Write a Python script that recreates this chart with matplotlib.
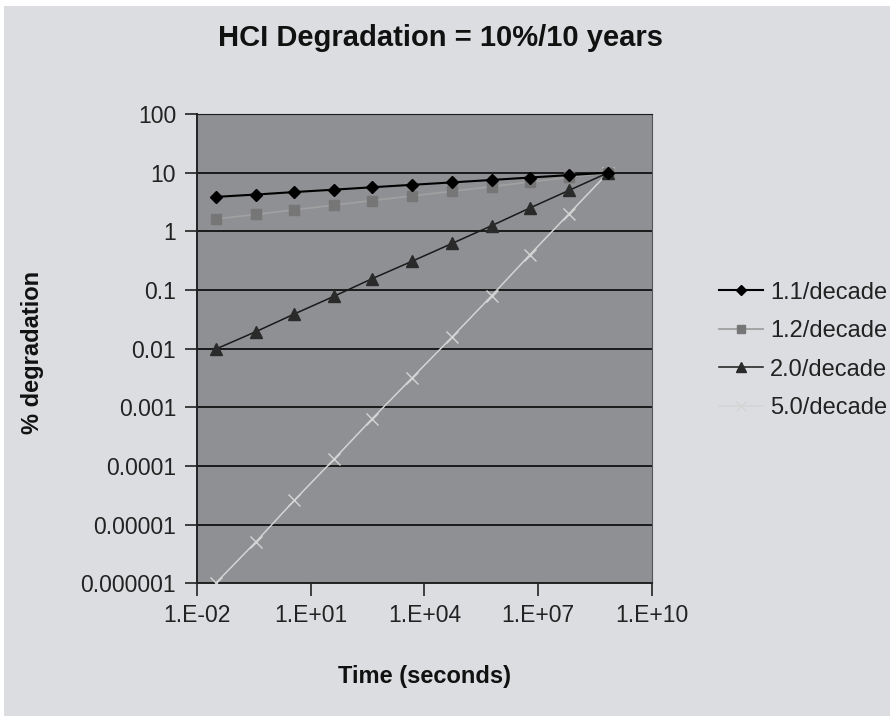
import matplotlib
matplotlib.use("Agg")
import matplotlib.pyplot as plt
from matplotlib.patches import Rectangle

# time points (seconds)
time_s = [0.031, 0.36, 3.7, 41, 420, 4800, 55000, 6.0e5, 6.1e6, 6.6e7, 7.1e8]

# % degradation for each slope
deg_11 = [3.86, 4.24, 4.67, 5.13, 5.64, 6.21, 6.83, 7.51, 8.26, 9.09, 10]
deg_12 = [1.62, 1.94, 2.33, 2.79, 3.35, 4.02, 4.82, 5.79, 6.94, 8.33, 10]
deg_20 = [0.0098, 0.0195, 0.039, 0.078, 0.156, 0.31, 0.625, 1.25, 2.5, 5.0, 10]
deg_50 = [1.0e-6, 5.1e-6, 2.6e-5, 1.3e-4, 6.4e-4, 3.2e-3, 0.016, 0.08, 0.4, 2.0, 10]

series_labels = ['1.1/decade', '1.2/decade', '2.0/decade', '5.0/decade']

x_ticks = [1e-2, 1e1, 1e4, 1e7, 1e10]
x_tick_labels = ['1.E-02', '1.E+01', '1.E+04', '1.E+07', '1.E+10']
y_ticks = [1e-6, 1e-5, 1e-4, 1e-3, 1e-2, 1e-1, 1, 10, 100]
y_tick_labels = ['0.000001', '0.00001', '0.0001', '0.001', '0.01', '0.1', '1', '10', '100']

plt.rcParams['font.family'] = ['Liberation Sans', 'DejaVu Sans']

fig = plt.figure(figsize=(8.9, 7.16), dpi=100)
fig.patch.set_facecolor('white')
# grey chart area with a thin white margin at top/left
fig.patches.append(Rectangle((4 / 890, 0), 1, 1 - 6 / 716, transform=fig.transFigure,
                             facecolor='#dcdde0', edgecolor='none', zorder=-10))

ax = fig.add_axes([197 / 890, 132.7 / 716, 454.7 / 890, 469.3 / 716])
ax.set_facecolor('#8f9094')
ax.set_xscale('log')
ax.set_yscale('log')
ax.set_xlim(1e-2, 1e10)
ax.set_ylim(1e-6, 100)

# horizontal gridlines at each decade
for yv in y_ticks:
    ax.axhline(yv, color='#1a1a1a', lw=1.4, zorder=1)

ax.plot(time_s, deg_11, color='black', lw=1.5, marker='D', ms=6.5,
        mfc='black', mec='black', label=series_labels[0], zorder=5)
ax.plot(time_s, deg_12, color='#a0a0a0', lw=1.3, marker='s', ms=7,
        mfc='#767676', mec='#767676', label=series_labels[1], zorder=4)
ax.plot(time_s, deg_20, color='#1a1a1a', lw=1.1, marker='^', ms=8,
        mfc='#2a2a2a', mec='#2a2a2a', label=series_labels[2], zorder=4)
ax.plot(time_s, deg_50, color='#d4d4d4', lw=1.1, marker='x', ms=8, mew=1.0,
        mfc='#d4d4d4', mec='#d4d4d4', label=series_labels[3], zorder=3)

ax.set_xticks(x_ticks)
ax.set_xticklabels(x_tick_labels)
ax.set_yticks(y_ticks)
ax.set_yticklabels(y_tick_labels)
ax.minorticks_off()
ax.tick_params(axis='both', direction='out', length=9, width=1.2, color='#222222',
               labelsize=16.5, labelcolor='#222222', pad=6)

ax.spines['left'].set_color('#222222')
ax.spines['bottom'].set_color('#222222')
ax.spines['left'].set_linewidth(1.4)
ax.spines['bottom'].set_linewidth(1.4)
ax.spines['right'].set_color('#555555')
ax.spines['top'].set_color('#1a1a1a')

leg = ax.legend(loc='center left', bbox_to_anchor=(719 / 890, 1 - 350.5 / 716),
                bbox_transform=fig.transFigure, frameon=False, fontsize=17,
                handlelength=1.85, handletextpad=0.3, labelspacing=0.7,
                borderaxespad=0, borderpad=0, markerscale=0.85)
for t in leg.get_texts():
    t.set_color('#222222')

fig.text(440 / 890, 1 - 38 / 716, 'HCI Degradation = 10%/10 years',
         ha='center', va='center', fontsize=21, fontweight='bold',
         color='#111111')
fig.text(425 / 890, 1 - 676 / 716, 'Time (seconds)', ha='center', va='center',
         fontsize=17, fontweight='bold', color='#111111')
fig.text(33 / 890, 1 - 352 / 716, '% degradation', ha='center', va='center',
         rotation=90, fontsize=17, fontweight='bold', color='#111111')

fig.savefig('out.png', dpi=100)
